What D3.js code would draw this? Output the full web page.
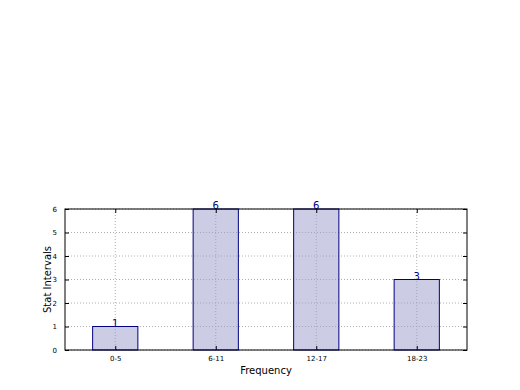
<!DOCTYPE html>
<html>
<head>
<meta charset="utf-8">
<script src="https://cdn.jsdelivr.net/npm/d3@7"></script>
<style>
  body { margin: 0; background: #fff; }
  svg { font-family: "DejaVu Sans", sans-serif; }
</style>
</head>
<body>
<div id="chart"></div>
<script>
const categories = ["0-5", "6-11", "12-17", "18-23"];
const counts = [1, 6, 6, 3];
const yTicks = [0, 1, 2, 3, 4, 5, 6];

const width = 520, height = 390;
const margin = { top: 209, right: 53, bottom: 40, left: 65 };
const plotW = width - margin.left - margin.right;
const plotH = height - margin.top - margin.bottom;

const svg = d3.select("#chart").append("svg")
    .attr("width", width)
    .attr("height", height);

const g = svg.append("g")
    .attr("transform", `translate(${margin.left},${margin.top})`);

const x = d3.scaleLinear().domain([-0.5, categories.length - 0.5]).range([0, plotW]);
const y = d3.scaleLinear().domain([0, 6]).range([plotH, 0]);
const barW = x(0.45) - x(0);

// grid
g.selectAll(".vgrid").data(categories).enter().append("line")
    .attr("x1", (d, i) => x(i)).attr("x2", (d, i) => x(i))
    .attr("y1", 0).attr("y2", plotH)
    .attr("stroke", "#b0b0b0").attr("stroke-dasharray", "1,2");
g.selectAll(".hgrid").data(yTicks).enter().append("line")
    .attr("x1", 0).attr("x2", plotW)
    .attr("y1", d => y(d)).attr("y2", d => y(d))
    .attr("stroke", "#b0b0b0").attr("stroke-dasharray", "1,2");

// bars
g.selectAll(".bar").data(counts).enter().append("rect")
    .attr("x", (d, i) => x(i) - barW / 2)
    .attr("y", d => y(d))
    .attr("width", barW)
    .attr("height", d => plotH - y(d))
    .attr("fill", "rgba(153,153,204,0.5)")
    .attr("stroke", "#000080").attr("stroke-width", 1);

// value labels
g.selectAll(".val").data(counts).enter().append("text")
    .attr("x", (d, i) => x(i))
    .attr("y", d => y(d))
    .attr("text-anchor", "middle")
    .attr("font-size", 10)
    .attr("fill", "#000080")
    .text(d => d);

// frame
g.append("rect").attr("width", plotW).attr("height", plotH)
    .attr("fill", "none").attr("stroke", "#000").attr("stroke-width", 1);

// axes
const xAxis = d3.axisBottom(x).tickValues(d3.range(categories.length))
    .tickFormat(i => categories[i]).tickSizeInner(-4).tickSizeOuter(0).tickPadding(6);
const xa = g.append("g").attr("transform", `translate(0,${plotH})`).call(xAxis);
const yAxis = d3.axisLeft(y).tickValues(yTicks).tickFormat(d3.format("d"))
    .tickSizeInner(-4).tickSizeOuter(0).tickPadding(8);
const ya = g.append("g").call(yAxis);
[xa, ya].forEach(a => {
  a.select(".domain").remove();
  a.selectAll("text").attr("font-size", 7).attr("font-family", "DejaVu Sans, sans-serif").attr("fill", "#000");
  a.selectAll("line").attr("stroke", "#000");
});
// top and right ticks
g.append("g").call(d3.axisTop(x).tickValues(d3.range(categories.length)).tickSizeInner(-4).tickSizeOuter(0).tickFormat(""))
  .call(a => a.select(".domain").remove());
g.append("g").attr("transform", `translate(${plotW},0)`)
  .call(d3.axisRight(y).tickValues(yTicks).tickSizeInner(-4).tickSizeOuter(0).tickFormat(""))
  .call(a => a.select(".domain").remove());

// axis labels
svg.append("text")
    .attr("x", margin.left + plotW / 2).attr("y", 374)
    .attr("text-anchor", "middle").attr("font-size", 10)
    .text("Frequency");
svg.append("text")
    .attr("transform", `translate(51,${margin.top + plotH / 2}) rotate(-90)`)
    .attr("text-anchor", "middle").attr("font-size", 10)
    .text("Stat Intervals");
</script>
</body>
</html>
